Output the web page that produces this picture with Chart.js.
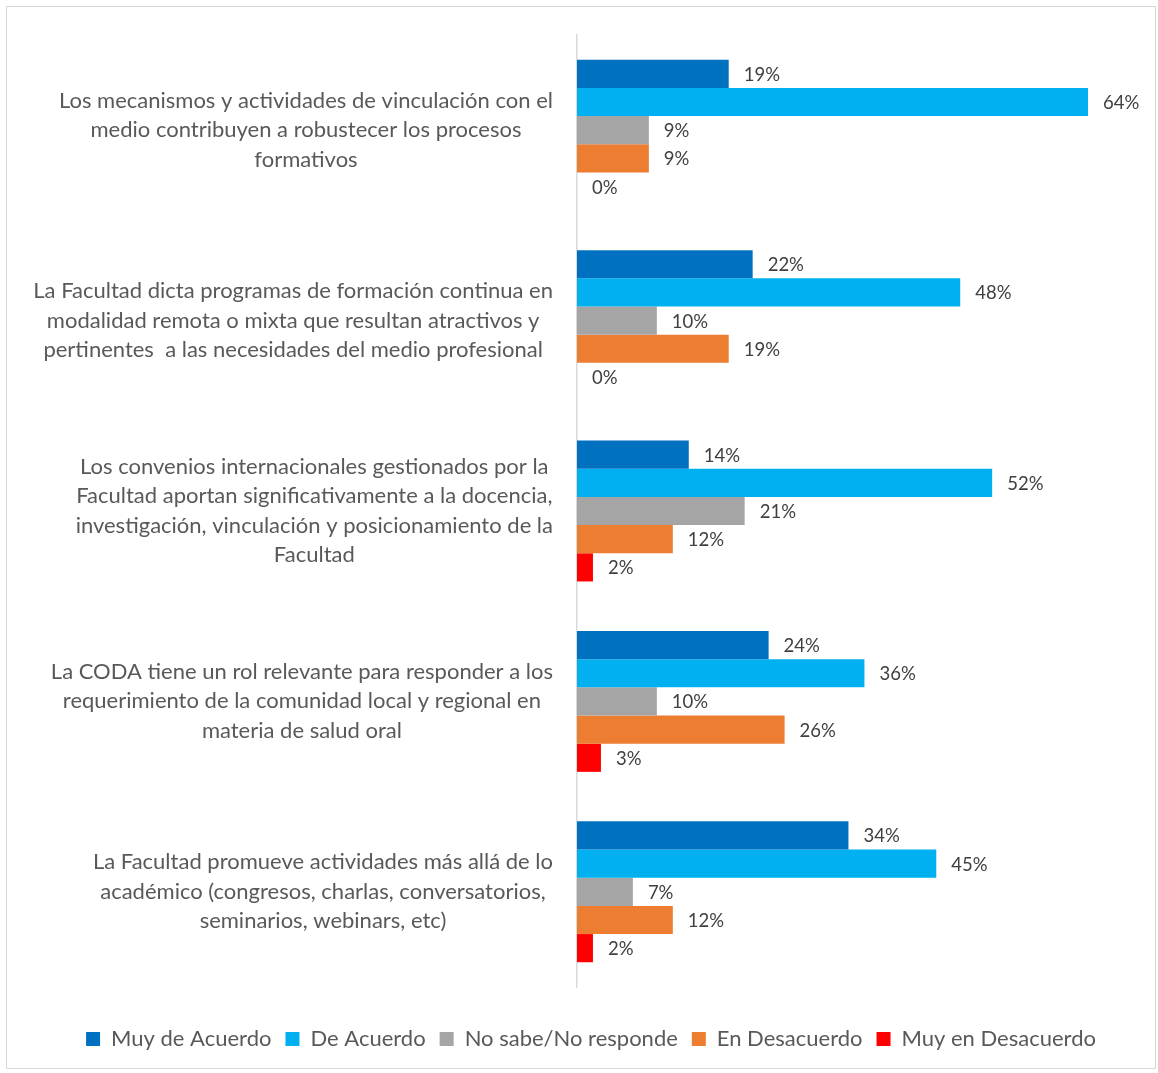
<!DOCTYPE html>
<html>
<head>
<meta charset="utf-8">
<script src="https://cdn.jsdelivr.net/npm/chart.js@4.4.1/dist/chart.umd.min.js"></script>
<style>
  html, body { margin: 0; padding: 0; background: #fff; }
  #wrap { position: relative; width: 1158px; height: 1073px; }
  #frame { position: absolute; left: 6px; top: 6px; width: 1150px; height: 1063px; border: 1px solid #D9D9D9; box-sizing: border-box; }
  canvas { position: absolute; left: 0; top: 0; }
</style>
</head>
<body>
<div id="wrap">
  <div id="frame"></div>
  <canvas id="c" width="1158" height="1073"></canvas>
</div>
<script>
const categories = [
  ["Los mecanismos y actividades de vinculación con el", "medio contribuyen a robustecer los procesos", "formativos"],
  ["La Facultad dicta programas de formación continua en", "modalidad remota o mixta que resultan atractivos y", "pertinentes  a las necesidades del medio profesional"],
  ["Los convenios internacionales gestionados por la", "Facultad aportan significativamente a la docencia,", "investigación, vinculación y posicionamiento de la", "Facultad"],
  ["La CODA tiene un rol relevante para responder a los", "requerimiento de la comunidad local y regional en", "materia de salud oral"],
  ["La Facultad promueve actividades más allá de lo", "académico (congresos, charlas, conversatorios,", "seminarios, webinars, etc)"]
];
const seriesNames = ["Muy de Acuerdo", "De Acuerdo", "No sabe/No responde", "En Desacuerdo", "Muy en Desacuerdo"];
const muyDeAcuerdo     = [19, 22, 14, 24, 34];
const deAcuerdo        = [64, 48, 52, 36, 45];
const noSabe           = [9, 10, 21, 10, 7];
const enDesacuerdo     = [9, 19, 12, 26, 12];
const muyEnDesacuerdo  = [0, 0, 2, 3, 2];
const colors = ["#0070C0", "#00B0F0", "#A5A5A5", "#ED7D31", "#FF0000"];
const xMax = 72.77;

const FONT = "Lato, 'Open Sans', sans-serif";

const labelPlugin = {
  id: 'catLabels',
  afterDraw(chart) {
    const ctx = chart.ctx;
    const ys = chart.scales.y;
    ctx.save();
    ctx.font = "22px " + FONT;
    ctx.fillStyle = "#595959";
    ctx.textAlign = "center";
    ctx.textBaseline = "middle";
    const right = chart.chartArea.left - 24;
    const lh = 29.5;
    categories.forEach((lines, i) => {
      const cy = ys.getPixelForTick(i);
      let maxW = 0;
      lines.forEach(l => { maxW = Math.max(maxW, ctx.measureText(l).width); });
      const cx = right - maxW / 2;
      const y0 = cy - (lines.length - 1) * lh / 2;
      lines.forEach((l, k) => ctx.fillText(l, cx, y0 + k * lh));
    });
    // value labels
    ctx.font = "18.5px " + FONT;
    ctx.fillStyle = "#404040";
    ctx.textAlign = "left";
    chart.data.datasets.forEach((ds, di) => {
      const meta = chart.getDatasetMeta(di);
      meta.data.forEach((bar, j) => {
        ctx.fillText(ds.data[j] + "%", bar.x + 15, bar.y + 1);
      });
    });
    ctx.restore();
  }
};

const datasets = [muyDeAcuerdo, deAcuerdo, noSabe, enDesacuerdo, muyEnDesacuerdo].map((d, i) => ({
  label: seriesNames[i],
  data: d,
  backgroundColor: colors[i],
  borderWidth: 0,
  categoryPercentage: 0.74,
  barPercentage: 1.0
}));

new Chart(document.getElementById('c'), {
  type: 'bar',
  data: { labels: categories.map(c => c.join(' ')), datasets },
  options: {
    indexAxis: 'y',
    responsive: false,
    animation: false,
    devicePixelRatio: 1,
    layout: { padding: { left: 24, right: 0, top: 35, bottom: 13 } },
    scales: {
      x: {
        min: 0, max: xMax,
        grid: { display: false },
        border: { display: false },
        ticks: { display: false },
        afterFit(s) { s.height = 27; }
      },
      y: {
        grid: { display: false },
        border: { display: true, color: "#D9D9D9", width: 1.5 },
        ticks: { display: false },
        afterFit(s) { s.width = 553; }
      }
    },
    plugins: {
      legend: {
        position: 'bottom',
        labels: {
          boxWidth: 14, boxHeight: 14,
          padding: 14,
          color: "#595959",
          font: { family: FONT, size: 22 }
        }
      },
      tooltip: { enabled: false }
    }
  },
  plugins: [labelPlugin]
});
</script>
</body>
</html>
